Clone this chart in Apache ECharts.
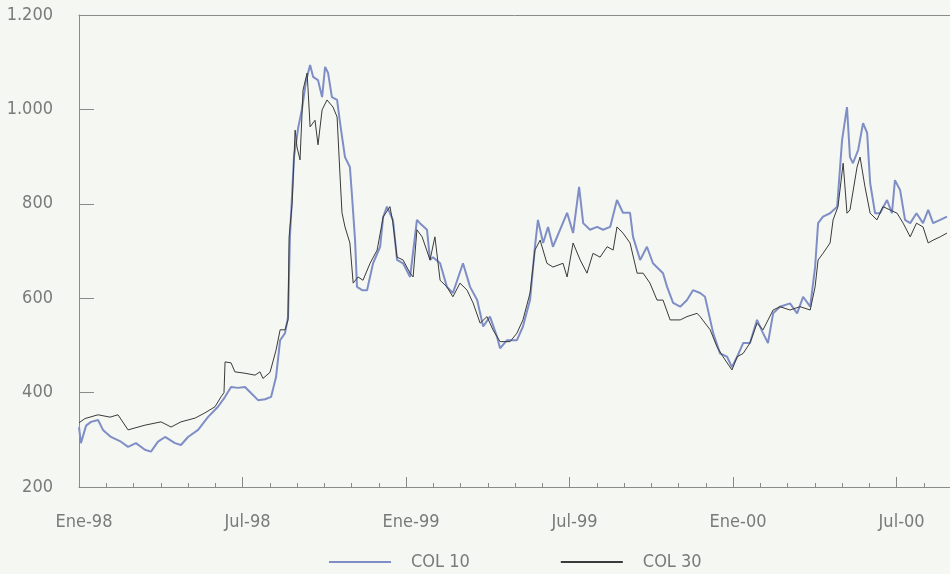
<!DOCTYPE html>
<html>
<head>
<meta charset="utf-8">
<script src="https://cdn.jsdelivr.net/npm/echarts@6/dist/echarts.min.js"></script>
<style>
html,body{margin:0;padding:0;background:#f5f7f2;}
#c{width:950px;height:574px;}
</style>
</head>
<body>
<div id="c"></div>
<script>
// x values: months since Ene-98
var tickLabels = {0:'Ene-98',6:'Jul-98',12:'Ene-99',18:'Jul-99',24:'Ene-00',30:'Jul-00'};

var col10Months = [0.00,0.07,0.26,0.44,0.70,0.88,1.17,1.54,1.80,2.09,2.42,2.64,2.90,3.16,3.52,3.74,4.00,4.37,4.73,5.10,5.36,5.58,5.83,6.09,6.31,6.57,6.83,7.05,7.23,7.38,7.56,7.67,7.74,7.89,8.04,8.18,8.33,8.48,8.59,8.77,8.92,9.03,9.14,9.28,9.47,9.58,9.76,9.94,10.02,10.13,10.20,10.39,10.57,10.79,11.05,11.16,11.30,11.52,11.67,11.89,12.15,12.40,12.51,12.77,12.88,12.99,13.25,13.50,13.72,14.09,14.35,14.61,14.83,15.08,15.34,15.45,15.71,16.07,16.29,16.55,16.73,16.84,17.03,17.21,17.39,17.65,17.91,18.13,18.35,18.50,18.75,19.01,19.23,19.49,19.74,19.96,20.22,20.33,20.59,20.84,21.06,21.43,21.58,21.80,22.06,22.31,22.53,22.79,22.97,23.27,23.52,23.78,23.96,24.15,24.37,24.62,24.88,25.10,25.28,25.47,25.72,26.09,26.35,26.57,26.83,27.01,27.12,27.30,27.56,27.82,28.00,28.18,28.29,28.40,28.59,28.77,28.92,29.03,29.21,29.39,29.65,29.83,29.94,30.13,30.31,30.50,30.73,30.97,31.16,31.34,31.60,31.85];
var col10Values = [327,293,330,338,342,321,306,296,285,293,279,275,296,306,293,289,306,321,348,370,391,412,410,412,399,384,386,391,433,511,526,560,730,900,960,1000,1060,1094,1069,1062,1026,1090,1077,1026,1020,971,899,878,815,723,624,617,617,674,709,772,794,766,681,674,645,766,759,745,681,687,674,624,611,674,624,596,540,561,518,494,511,511,540,596,709,766,717,751,709,745,781,738,836,759,745,751,745,751,808,781,781,730,681,709,674,653,624,590,582,596,617,611,603,526,483,476,454,476,505,505,554,526,505,568,582,589,568,603,582,666,759,773,780,794,935,1005,899,886,914,971,950,844,780,780,808,780,850,829,766,759,780,759,787,759,766,773];

var col30Months = [0.00,0.22,0.70,1.14,1.43,1.80,2.42,3.01,3.38,3.74,4.26,4.62,4.99,5.21,5.32,5.36,5.58,5.72,6.09,6.46,6.64,6.75,7.01,7.23,7.38,7.56,7.67,7.71,7.82,7.93,8.00,8.11,8.22,8.37,8.40,8.48,8.66,8.77,8.92,9.10,9.32,9.47,9.58,9.65,9.76,9.94,10.06,10.24,10.42,10.68,10.94,11.16,11.41,11.52,11.67,11.89,12.15,12.26,12.40,12.59,12.88,13.06,13.25,13.50,13.72,13.98,14.24,14.46,14.72,14.97,15.19,15.45,15.82,16.07,16.29,16.55,16.73,16.92,17.17,17.39,17.76,17.91,18.13,18.39,18.64,18.86,19.12,19.38,19.60,19.74,19.96,20.22,20.48,20.70,20.95,21.21,21.43,21.69,22.06,22.31,22.68,22.79,23.16,23.41,23.63,23.96,24.15,24.37,24.62,24.88,25.10,25.47,25.72,26.09,26.46,26.83,27.01,27.12,27.30,27.56,27.67,27.85,28.04,28.18,28.29,28.55,28.66,28.84,29.03,29.28,29.50,29.76,30.02,30.24,30.50,30.73,30.97,31.16,31.34,31.60,31.85];
var col30Values = [336,345,353,348,353,321,331,338,327,338,346,357,370,391,400,465,463,444,441,437,444,430,443,490,533,533,554,730,800,956,920,893,1041,1077,1047,963,977,925,999,1020,1005,984,857,781,751,717,632,645,638,674,702,772,794,759,687,681,653,645,745,730,681,730,638,624,603,632,617,590,547,561,533,508,508,526,554,611,702,723,674,666,674,645,717,681,653,695,687,709,702,751,738,717,653,653,632,596,596,554,554,561,568,561,533,497,476,448,476,483,505,547,533,575,582,575,582,575,624,681,695,717,766,794,886,780,787,878,899,836,780,766,794,787,780,759,730,759,751,717,723,730,738];

function zip(xs, ys){ return xs.map(function(x,i){ return [x, ys[i]]; }); }

var FONT = '"DejaVu Sans Condensed","Liberation Sans Narrow","DejaVu Sans",sans-serif';
var GREY = '#7a7a7a';
var AXIS = '#8a8a8a';
var XMAX = 31.96;

var chart = echarts.init(document.getElementById('c'), null, {renderer:'canvas'});
chart.setOption({
  backgroundColor: '#f5f7f2',
  animation: false,
  grid: {left: 79, right: 0, top: 15, bottom: 87, containLabel: false},
  legend: {
    left: 323, top: 548,
    itemWidth: 62, itemHeight: 14, itemGap: 90,
    itemStyle: {opacity: 0},
    textStyle: {fontFamily: FONT, fontSize: 18, color: GREY, padding: [0,0,0,15]},
    data: ['COL 10','COL 30']
  },
  xAxis: [{
    type: 'value', min: 0, max: XMAX, interval: 6,
    axisLine: {show: true, lineStyle: {color: AXIS, width: 1}},
    axisTick: {show: true, inside: true, length: 10, lineStyle: {color: AXIS}},
    splitLine: {show: false},
    axisLabel: {
      margin: 26, fontFamily: FONT, fontSize: 18, color: GREY, padding: [0,0,0,10],
      showMaxLabel: false,
      formatter: function(v){ return tickLabels[v] || ''; }
    }
  },{
    type: 'value', position: 'bottom', min: 0, max: XMAX, interval: 1,
    axisLine: {show: false},
    axisTick: {show: true, inside: true, length: 4, lineStyle: {color: AXIS}},
    axisLabel: {show: false}, splitLine: {show: false}
  },{
    type: 'value', position: 'top', min: 0, max: XMAX,
    axisLine: {show: true, lineStyle: {color: AXIS, width: 1}},
    axisTick: {show: false}, axisLabel: {show: false}, splitLine: {show: false}
  }],
  yAxis: {
    type: 'value', min: 200, max: 1200, interval: 200,
    axisLine: {show: true, lineStyle: {color: AXIS, width: 1}},
    axisTick: {show: true, inside: true, length: 15, lineStyle: {color: AXIS}},
    splitLine: {show: false},
    axisLabel: {
      margin: 26, fontFamily: FONT, fontSize: 18, color: GREY,
      formatter: function(v){ return String(v).replace(/\B(?=(\d{3})+(?!\d))/g, '.'); }
    }
  },
  series: [{
    name: 'COL 10', type: 'line', symbol: 'none', xAxisIndex: 0,
    data: zip(col10Months, col10Values),
    lineStyle: {color: '#7f8ec6', width: 2}, itemStyle: {color: '#7f8ec6'}
  },{
    name: 'COL 30', type: 'line', symbol: 'none', xAxisIndex: 0,
    data: zip(col30Months, col30Values),
    lineStyle: {color: '#3a3a3a', width: 1}, itemStyle: {color: '#3a3a3a'}
  }]
});
</script>
</body>
</html>
